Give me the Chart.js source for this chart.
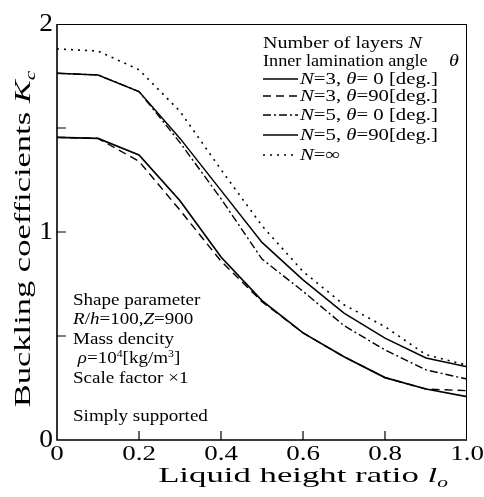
<!DOCTYPE html>
<html>
<head>
<meta charset="utf-8">
<script src="https://cdn.jsdelivr.net/npm/chart.js@4/dist/chart.umd.min.js"></script>
<style>
html,body{margin:0;padding:0;background:#fff;}
#wrap{position:relative;width:484px;height:497px;}
</style>
</head>
<body>
<div id="wrap"><canvas id="c" width="484" height="497"></canvas></div>
<script>
// ---- data ----
const xValues = [0, 0.1, 0.2, 0.3, 0.4, 0.5, 0.6, 0.7, 0.8, 0.9, 1.0];
const kcN3Deg0  = [1.455, 1.45, 1.37, 1.15, 0.88, 0.67, 0.515, 0.40, 0.30, 0.245, 0.208];
const kcN3Deg90 = [1.455, 1.45, 1.34, 1.105, 0.86, 0.665, 0.515, 0.40, 0.30, 0.245, 0.237];
const kcN5Deg0  = [1.763, 1.755, 1.675, 1.43, 1.16, 0.87, 0.715, 0.55, 0.433, 0.337, 0.293];
const kcN5Deg90 = [1.763, 1.755, 1.675, 1.45, 1.20, 0.95, 0.77, 0.61, 0.49, 0.394, 0.352];
const kcNinf    = [1.88, 1.87, 1.78, 1.58, 1.30, 1.03, 0.81, 0.65, 0.545, 0.41, 0.36];
const xTicks = [0, 0.2, 0.4, 0.6, 0.8, 1.0];
const xTickLabels = ['0', '0.2', '0.4', '0.6', '0.8', '1.0'];
const yTicks = [0, 0.5, 1, 1.5, 2];
const yTickLabels = ['0', '', '1', '', '2'];

const FONT = '"Liberation Serif", "Times New Roman", serif';

function pts(ys){ return xValues.map((x,i)=>({x:x, y:ys[i]})); }

// legend label segments (rich text)
const legendN3D0  = [{t:'N',it:1},{t:'=3, '},{t:'θ',it:1},{t:'= 0 [deg.]'}];
const legendN3D90 = [{t:'N',it:1},{t:'=3, '},{t:'θ',it:1},{t:'=90[deg.]'}];
const legendN5D0  = [{t:'N',it:1},{t:'=5, '},{t:'θ',it:1},{t:'= 0 [deg.]'}];
const legendN5D90 = [{t:'N',it:1},{t:'=5, '},{t:'θ',it:1},{t:'=90[deg.]'}];
const legendNinf  = [{t:'N',it:1},{t:'=∞'}];

function fontFor(seg, size){
  const s = (seg.sub||seg.sup) ? size*0.62 : size;
  return (seg.it ? 'italic ' : '') + s.toFixed(1) + 'px ' + FONT;
}
function richWidth(ctx, segs, size){
  let w = 0;
  for (const s of segs){ ctx.font = fontFor(s,size); w += ctx.measureText(s.t).width; }
  return w;
}
function drawRichAt(ctx, segs, x, size){
  ctx.textAlign = 'left'; ctx.textBaseline = 'alphabetic';
  for (const s of segs){
    ctx.font = fontFor(s,size);
    let dy = 0;
    if (s.sub) dy = size*0.22;
    if (s.sup) dy = -size*0.38;
    ctx.fillText(s.t, x, dy);
    x += ctx.measureText(s.t).width;
  }
}
function rich(ctx, segs, x, y, size, sx, align, rot){
  ctx.save();
  ctx.translate(x, y);
  if (rot) ctx.rotate(rot);
  ctx.scale(sx, 1);
  const w = richWidth(ctx, segs, size);
  let x0 = 0;
  if (align === 'center') x0 = -w/2;
  else if (align === 'right') x0 = -w;
  drawRichAt(ctx, segs, x0, size);
  ctx.restore();
}

const decor = {
  id: 'decor',
  beforeDatasetsDraw(chart){
    const ctx = chart.ctx, a = chart.chartArea;
    const xs = chart.scales.x, ys = chart.scales.y;
    ctx.save();
    ctx.strokeStyle = '#000';
    ctx.lineWidth = 1;
    ctx.beginPath();
    ctx.moveTo(a.left, a.top + 0.5); ctx.lineTo(a.right, a.top + 0.5);
    ctx.moveTo(a.right - 0.5, a.top); ctx.lineTo(a.right - 0.5, a.bottom);
    ctx.stroke();
    ctx.lineWidth = 1.6;
    ctx.beginPath();
    ctx.moveTo(a.left, a.top); ctx.lineTo(a.left, a.bottom);
    ctx.lineTo(a.right, a.bottom);
    ctx.stroke();
    ctx.lineWidth = 1.2;
    ctx.beginPath();
    for (const v of xTicks){
      if (v === 0 || v === 1) continue;
      const p = xs.getPixelForValue(v);
      ctx.moveTo(p, a.bottom); ctx.lineTo(p, a.bottom - 9);
    }
    for (const v of yTicks){
      if (v === 0 || v === 2) continue;
      const p = ys.getPixelForValue(v);
      ctx.moveTo(a.left, p); ctx.lineTo(a.left + 9, p);
    }
    ctx.stroke();
    ctx.restore();
  },
  afterDraw(chart){
    const ctx = chart.ctx;
    const xs = chart.scales.x, ys = chart.scales.y;
    ctx.save();
    ctx.fillStyle = '#000';
    xTicks.forEach((v,i)=>{
      rich(ctx, [{t:xTickLabels[i]}], xs.getPixelForValue(v), 460, 20, 1.35, 'center');
    });
    yTicks.forEach((v,i)=>{
      if (!yTickLabels[i]) return;
      rich(ctx, [{t:yTickLabels[i]}], 53, ys.getPixelForValue(v) + 7, 25, 1.1, 'right');
    });
    rich(ctx, [{t:'Liquid height ratio '},{t:'l',it:1},{t:'o',it:1,sub:1}], 303, 482, 22, 1.58, 'center');
    rich(ctx, [{t:'Buckling coefficients '},{t:'K',it:1},{t:'c',it:1,sub:1}], 30, 239, 23, 1.5, 'center', -Math.PI/2);

    const L = 17, sxL = 1.18;
    rich(ctx, [{t:'Number of layers '},{t:'N',it:1}], 263, 48, L, sxL, 'left');
    rich(ctx, [{t:'Inner lamination angle'}], 263, 66, L, 1.07, 'left');
    rich(ctx, [{t:'θ',it:1}], 449, 66, L, sxL, 'left');
    const rows = [84, 101, 120, 140, 160];
    chart.data.datasets.forEach((ds, i)=>{
      const y = rows[i] - 5;
      ctx.save();
      ctx.strokeStyle = '#000';
      ctx.lineWidth = ds.borderWidth;
      ctx.setLineDash(ds.borderDash || []);
      ctx.beginPath(); ctx.moveTo(263, y); ctx.lineTo(298, y); ctx.stroke();
      ctx.restore();
      rich(ctx, ds.legendSegs, 300, rows[i], L, 1.22, 'left');
    });

    const A = 17, sxA = 1.12;
    rich(ctx, [{t:'Shape parameter'}], 73, 305, A, sxA, 'left');
    rich(ctx, [{t:'R',it:1},{t:'/'},{t:'h',it:1},{t:'=100,'},{t:'Z',it:1},{t:'=900'}], 73, 324, A, sxA, 'left');
    rich(ctx, [{t:'Mass dencity'}], 73, 344, A, sxA, 'left');
    rich(ctx, [{t:' ρ',it:1},{t:'=10'},{t:'4',sup:1},{t:'[kg/m'},{t:'3',sup:1},{t:']'}], 73, 363, A, sxA, 'left');
    rich(ctx, [{t:'Scale factor ×1'}], 73, 383, A, sxA, 'left');
    rich(ctx, [{t:'Simply supported'}], 73, 421, A, sxA, 'left');
    ctx.restore();
  }
};

const common = {borderColor:'#000', pointRadius:0, tension:0, fill:false};
new Chart(document.getElementById('c'), {
  type: 'line',
  data: {
    datasets: [
      Object.assign({label:'N=3, θ=0 [deg.]',  data: pts(kcN3Deg0),  borderWidth:1.7, borderDash:[], legendSegs:legendN3D0}, common),
      Object.assign({label:'N=3, θ=90[deg.]',  data: pts(kcN3Deg90), borderWidth:1.4, borderDash:[8,5], legendSegs:legendN3D90}, common),
      Object.assign({label:'N=5, θ=0 [deg.]',  data: pts(kcN5Deg0),  borderWidth:1.4, borderDash:[8,3,2,3], legendSegs:legendN5D0}, common),
      Object.assign({label:'N=5, θ=90[deg.]',  data: pts(kcN5Deg90), borderWidth:1.5, borderDash:[], legendSegs:legendN5D90}, common),
      Object.assign({label:'N=∞',              data: pts(kcNinf),    borderWidth:1.6, borderDash:[2,5], legendSegs:legendNinf}, common)
    ]
  },
  options: {
    responsive: false,
    animation: false,
    devicePixelRatio: 1,
    layout: {padding: {left:57, top:24, right:17, bottom:57}},
    plugins: {legend:{display:false}, tooltip:{enabled:false}},
    scales: {
      x: {type:'linear', min:0, max:1, display:false},
      y: {type:'linear', min:0, max:2, display:false}
    }
  },
  plugins: [decor]
});
</script>
</body>
</html>
